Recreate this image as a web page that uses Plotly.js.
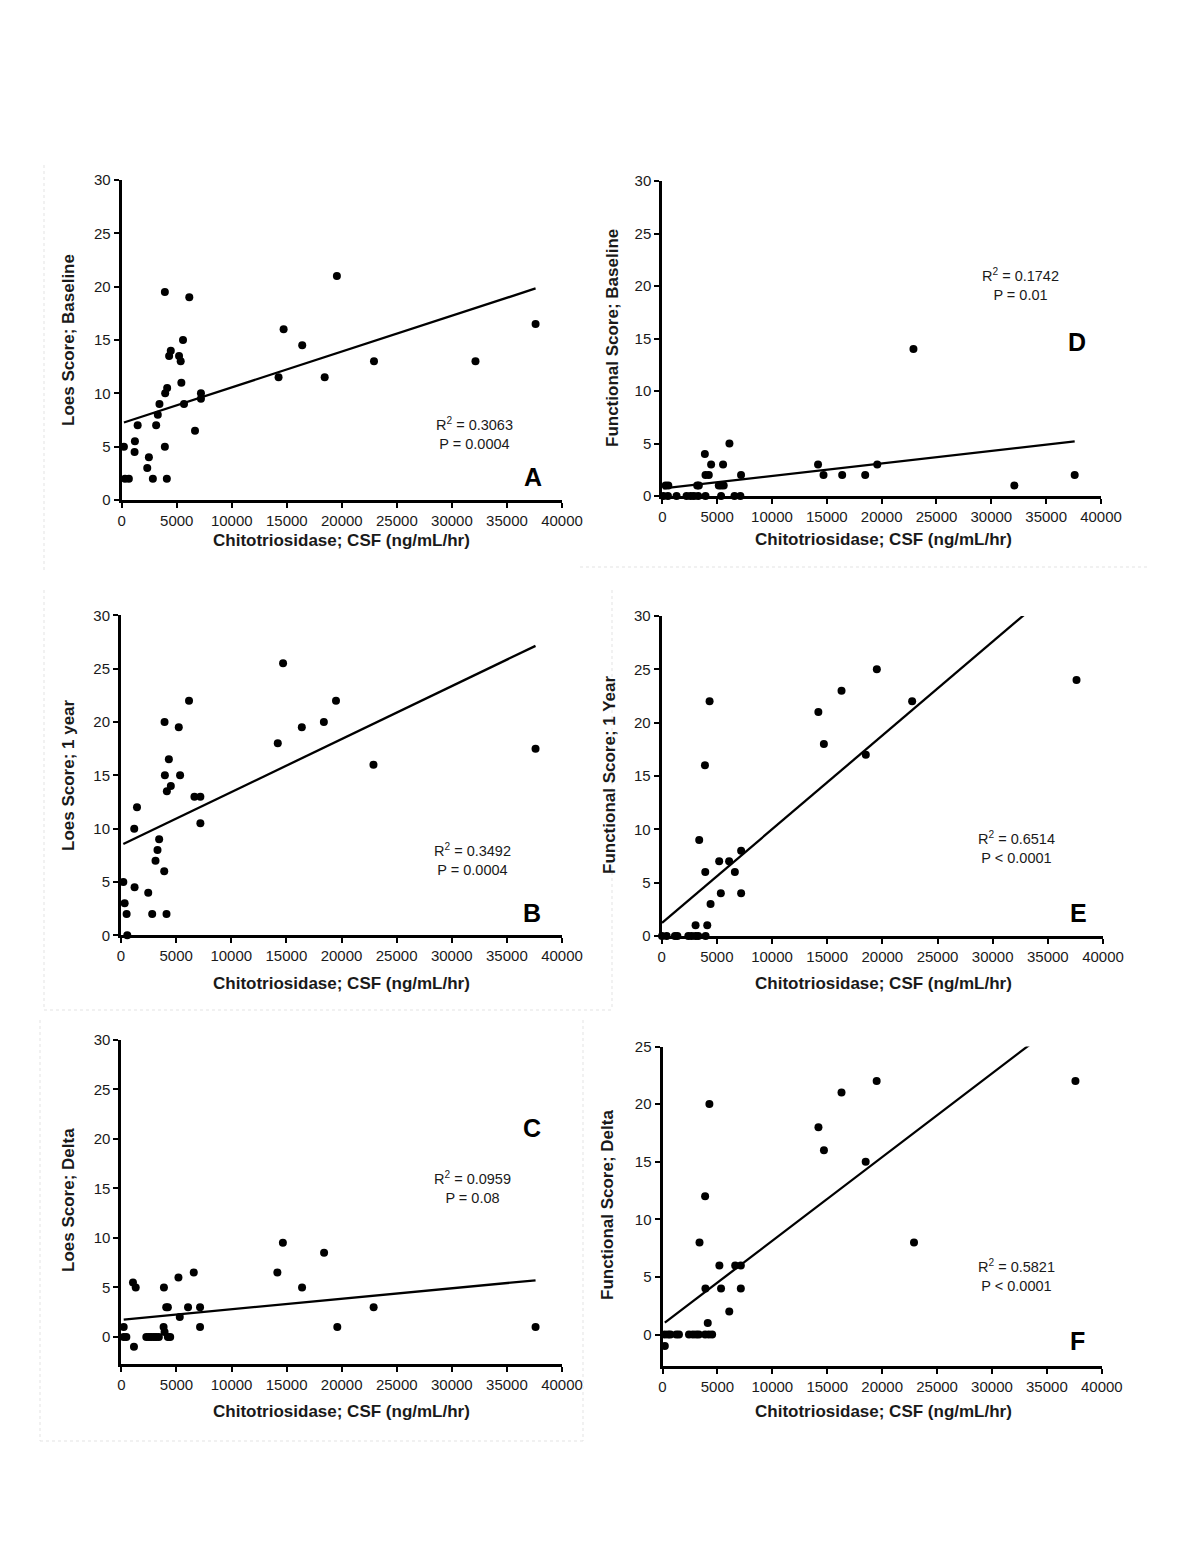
<!DOCTYPE html>
<html>
<head>
<meta charset="utf-8">
<script src="https://cdn.plot.ly/plotly-3.0.1.min.js"></script>
<style>html,body{margin:0;padding:0;background:#fff;}#chart{width:1200px;height:1553px;}</style>
</head>
<body>
<div id="chart"></div>
<script>
// ---------------- DATA ----------------
const xTickVals = [0, 5000, 10000, 15000, 20000, 25000, 30000, 35000, 40000];
const xTickText = ["0", "5000", "10000", "15000", "20000", "25000", "30000", "35000", "40000"];
const xAxisTitle = "Chitotriosidase; CSF (ng/mL/hr)";

// Panel A: Loes score, baseline
const chitoA = [200, 300, 650, 1200, 1170, 1450, 2320, 2470, 2830, 3130, 3280, 3430, 3920, 3920, 3950, 4130, 4100, 4310, 4460, 5210, 5360, 5420, 5570, 5660, 6140, 6660, 7200, 7200, 14250, 14710, 16400, 18440, 19550, 22920, 32140, 37600];
const loesBaseline = [5, 2, 2, 5.5, 4.5, 7, 3, 4, 2, 7, 8, 9, 19.5, 5, 10, 10.5, 2, 13.5, 14, 13.5, 13, 11, 15, 9, 19, 6.5, 10, 9.5, 11.5, 16, 14.5, 11.5, 21, 13, 13, 16.5];
const fitA = [7.2, 0.000336];          // [intercept, slope]
const statsA = ["0.3063", "0.0004"];

// Panel B: Loes score, 1 year
const chitoB = [210, 330, 510, 570, 1200, 1230, 1450, 2470, 2830, 3130, 3310, 3460, 3920, 3950, 3980, 4130, 4160, 4340, 4520, 5240, 5360, 6170, 6660, 7200, 7200, 14220, 14700, 16400, 18400, 19500, 22900, 37600];
const loesYear1 = [5, 3, 2, 0, 10, 4.5, 12, 4, 2, 7, 8, 9, 6, 20, 15, 2, 13.5, 16.5, 14, 19.5, 15, 22, 13, 13, 10.5, 18, 25.5, 19.5, 20, 22, 16, 17.5];
const fitB = [8.45, 0.000497];
const statsB = ["0.3492", "0.0004"];

// Panel C: Loes score, delta
const chitoC = [210, 210, 450, 1050, 1300, 1140, 2260, 2500, 2710, 2950, 3160, 3400, 4220, 4430, 3830, 3860, 3920, 4070, 4220, 5180, 5300, 6050, 6570, 7140, 7140, 14160, 14660, 16400, 18400, 19600, 22900, 37600];
const loesDelta = [1, 0, 0, 5.5, 5, -1, 0, 0, 0, 0, 0, 0, 0, 0, 1, 5, 0.5, 3, 3, 6, 2, 3, 6.5, 3, 1, 6.5, 9.5, 5, 8.5, 1, 3, 1];
const fitC = [1.73, 0.000106];
const statsC = ["0.0959", "0.08"];

// Panel D: Functional score, baseline
const chitoD = [90, 515, 1300, 2210, 2580, 2880, 3270, 3940, 5360, 6580, 7120, 300, 550, 3180, 3330, 5150, 5360, 5600, 32100, 3940, 4240, 7180, 14700, 16400, 18500, 37600, 4450, 5540, 14200, 19600, 3880, 6120, 22900];
const funcBaseline = [0, 0, 0, 0, 0, 0, 0, 0, 0, 0, 0, 1, 1, 1, 1, 1, 1, 1, 1, 2, 2, 2, 2, 2, 2, 2, 3, 3, 3, 3, 4, 5, 14];
const fitD = [0.72, 0.000119];
const statsD = ["0.1742", "0.01"];

// Panel E: Functional score, 1 year
const chitoE = [30, 450, 1200, 1420, 2410, 2710, 3070, 3310, 3980, 3070, 4130, 3400, 3950, 3920, 4430, 5360, 5210, 6110, 6630, 7200, 7200, 4340, 14200, 14700, 16300, 18500, 19500, 22700, 37600];
const funcYear1 = [0, 0, 0, 0, 0, 0, 0, 0, 0, 1, 1, 9, 6, 16, 3, 4, 7, 7, 6, 8, 4, 22, 21, 18, 23, 17, 25, 22, 24];
const fitE = [1.2, 0.00088];
const statsE = ["0.6514", "< 0.0001"];

// Panel F: Functional score, delta
const chitoF = [210, 210, 510, 720, 1260, 1500, 2410, 2770, 3070, 3310, 3880, 4210, 4520, 3370, 3880, 4270, 3910, 4120, 5180, 5330, 6080, 6620, 7130, 7130, 14200, 14700, 16300, 18500, 19500, 22900, 37600];
const funcDelta = [-1, 0, 0, 0, 0, 0, 0, 0, 0, 0, 0, 0, 0, 8, 12, 20, 4, 1, 6, 4, 2, 6, 6, 4, 18, 16, 21, 15, 22, 8, 22];
const fitF = [0.88, 0.000726];
const statsF = ["0.5821", "< 0.0001"];

// ---------------- LAYOUT HELPERS ----------------
const W = 1200, H = 1553;
const FONT = "Arial, 'Liberation Sans', Helvetica, sans-serif";
const px = v => v / W;
const py = v => 1 - v / H;

const panels = [
  {key: "A", x: chitoA, y: loesBaseline, fit: fitA, stats: statsA, yTitle: "Loes Score; Baseline",
   box: [121.7, 562, 180, 500], yr: [0, 30], yt: [0, 5, 10, 15, 20, 25, 30],
   stat: [474, 434], letter: [533, 477], xt: [342, 540], ytp: [68, 340]},
  {key: "D", x: chitoD, y: funcBaseline, fit: fitD, stats: statsD, yTitle: "Functional Score; Baseline",
   box: [662.3, 1101, 181, 496], yr: [0, 30], yt: [0, 5, 10, 15, 20, 25, 30],
   stat: [1020, 285], letter: [1077, 342], xt: [883, 539], ytp: [612, 338]},
  {key: "B", x: chitoB, y: loesYear1, fit: fitB, stats: statsB, yTitle: "Loes Score; 1 year",
   box: [121, 562, 615.3, 935.3], yr: [0, 30], yt: [0, 5, 10, 15, 20, 25, 30],
   stat: [472, 859], letter: [532, 913], xt: [342, 983], ytp: [68, 775]},
  {key: "E", x: chitoE, y: funcYear1, fit: fitE, stats: statsE, yTitle: "Functional Score; 1 Year",
   box: [661.7, 1103, 616, 936], yr: [0, 30], yt: [0, 5, 10, 15, 20, 25, 30],
   stat: [1016, 847], letter: [1078, 913], xt: [883, 983], ytp: [609, 775]},
  {key: "C", x: chitoC, y: loesDelta, fit: fitC, stats: statsC, yTitle: "Loes Score; Delta",
   box: [121.4, 562, 1040, 1363.6], yr: [-2.7, 30], yt: [0, 5, 10, 15, 20, 25, 30],
   stat: [472, 1187], letter: [532, 1128], xt: [342, 1411], ytp: [68, 1200]},
  {key: "F", x: chitoF, y: funcDelta, fit: fitF, stats: statsF, yTitle: "Functional Score; Delta",
   box: [662.5, 1101.8, 1046.5, 1365.7], yr: [-2.7, 25], yt: [0, 5, 10, 15, 20, 25],
   stat: [1016, 1275], letter: [1077, 1341], xt: [883, 1411], ytp: [607, 1205]}
];

const data = [];
const layout = {
  width: W, height: H,
  margin: {l: 0, r: 0, t: 0, b: 0},
  paper_bgcolor: "#ffffff", plot_bgcolor: "rgba(0,0,0,0)",
  showlegend: false,
  font: {family: FONT, color: "#1a1a1a", size: 14},
  annotations: [],
  shapes: []
};

panels.forEach((p, i) => {
  const n = i + 1;
  const xa = "x" + (n === 1 ? "" : n), ya = "y" + (n === 1 ? "" : n);
  const xKey = "xaxis" + (n === 1 ? "" : n), yKey = "yaxis" + (n === 1 ? "" : n);
  const [l, r, t, b] = p.box;

  // regression line from the fitted intercept/slope across the data's x extent
  const xmin = Math.min(...p.x), xmax = Math.max(...p.x);
  data.push({
    type: "scatter", mode: "lines", xaxis: xa, yaxis: ya,
    x: [xmin, xmax], y: [p.fit[0] + p.fit[1] * xmin, p.fit[0] + p.fit[1] * xmax],
    line: {color: "#000", width: 2.3}, hoverinfo: "skip"
  });
  data.push({
    type: "scatter", mode: "markers", xaxis: xa, yaxis: ya,
    x: p.x, y: p.y, cliponaxis: false,
    marker: {color: "#000", size: 8, line: {width: 0}}
  });

  layout[xKey] = {
    domain: [px(l), px(r)], anchor: ya, range: [0, 40000],
    showgrid: false, zeroline: false, showline: true, linecolor: "#000", linewidth: 3,
    ticks: "outside", ticklen: 5, tickwidth: 2, tickcolor: "#000",
    tickvals: xTickVals, ticktext: xTickText,
    tickfont: {family: FONT, size: 15, color: "#1a1a1a"}, fixedrange: true
  };
  layout[yKey] = {
    domain: [py(b), py(t)], anchor: xa, range: p.yr,
    showgrid: false, zeroline: false, showline: true, linecolor: "#000", linewidth: 3,
    ticks: "outside", ticklen: 5, tickwidth: 2, tickcolor: "#000",
    tickvals: p.yt, ticktext: p.yt.map(String),
    tickfont: {family: FONT, size: 15, color: "#1a1a1a"}, fixedrange: true
  };

  // axis titles
  layout.annotations.push({
    xref: "paper", yref: "paper", x: px(p.xt[0]), y: py(p.xt[1]),
    xanchor: "center", yanchor: "middle", showarrow: false,
    text: "<b>" + xAxisTitle + "</b>", font: {family: FONT, size: 17, color: "#1a1a1a"}
  });
  layout.annotations.push({
    xref: "paper", yref: "paper", x: px(p.ytp[0]), y: py(p.ytp[1]),
    xanchor: "center", yanchor: "middle", showarrow: false, textangle: -90,
    text: "<b>" + p.yTitle + "</b>", font: {family: FONT, size: 17, color: "#1a1a1a"}
  });
  // statistics
  layout.annotations.push({
    xref: "paper", yref: "paper", x: px(p.stat[0]), y: py(p.stat[1]),
    xanchor: "center", yanchor: "middle", showarrow: false, align: "center",
    text: "R<sup>2</sup> = " + p.stats[0] + "<br>P " + (p.stats[1].startsWith("<") ? "" : "= ") + p.stats[1],
    font: {family: FONT, size: 14.5, color: "#1a1a1a"}
  });
  // panel letter
  layout.annotations.push({
    xref: "paper", yref: "paper", x: px(p.letter[0]), y: py(p.letter[1]),
    xanchor: "center", yanchor: "middle", showarrow: false,
    text: "<b>" + p.key + "</b>", font: {family: FONT, size: 25, color: "#000"}
  });
});

// faint dotted panel frames seen in the reference
const frame = {color: "#e3e3e3", width: 1, dash: "dot"};
const seg = (x0, y0, x1, y1) => ({type: "line", xref: "paper", yref: "paper",
  x0: px(x0), y0: py(y0), x1: px(x1), y1: py(y1), line: frame});
layout.shapes.push(seg(44, 165, 44, 570));
layout.shapes.push(seg(580, 567, 1150, 567));
layout.shapes.push(seg(44, 590, 44, 1010), seg(612, 590, 612, 1010), seg(44, 1010, 612, 1010));
layout.shapes.push(seg(40, 1020, 40, 1441), seg(583, 1020, 583, 1441), seg(40, 1441, 583, 1441));

Plotly.newPlot("chart", data, layout, {staticPlot: true, displayModeBar: false});
</script>
</body>
</html>
